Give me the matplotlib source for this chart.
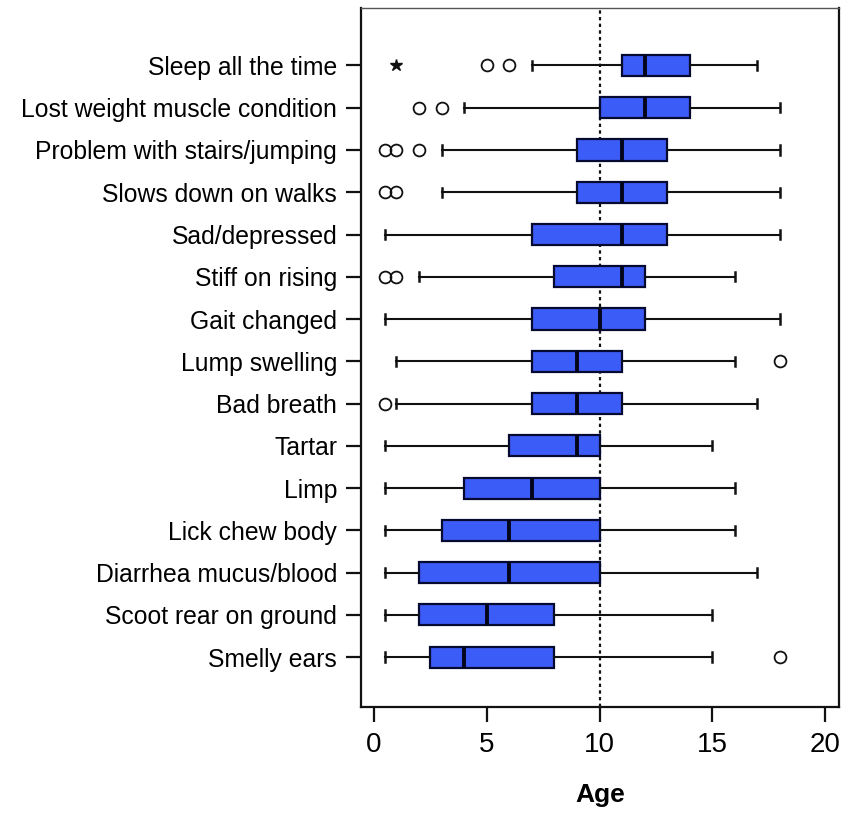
import numpy as np
import matplotlib.pyplot as plt

# symptom labels, top to bottom
symptoms = ['Sleep all the time', 'Lost weight muscle condition',
            'Problem with stairs/jumping', 'Slows down on walks',
            'Sad/depressed', 'Stiff on rising', 'Gait changed',
            'Lump swelling', 'Bad breath', 'Tartar', 'Limp',
            'Lick chew body', 'Diarrhea mucus/blood',
            'Scoot rear on ground', 'Smelly ears']

# box plot summaries (age, years)
whisk_lo = [7, 4, 3, 3, 0.5, 2, 0.5, 1, 1, 0.5, 0.5, 0.5, 0.5, 0.5, 0.5]
q1 = [11, 10, 9, 9, 7, 8, 7, 7, 7, 6, 4, 3, 2, 2, 2.5]
med = [12, 12, 11, 11, 11, 11, 10, 9, 9, 9, 7, 6, 6, 5, 4]
q3 = [14, 14, 13, 13, 13, 12, 12, 11, 11, 10, 10, 10, 10, 8, 8]
whisk_hi = [17, 18, 18, 18, 18, 16, 18, 16, 17, 15, 16, 16, 17, 15, 15]

# outliers (circles) and extremes (stars)
outliers = [[5, 6], [2, 3], [0.5, 1, 2], [0.5, 1], [], [0.5, 1], [], [18],
            [0.5], [], [], [], [], [], [18]]
extremes = [[1], [], [], [], [], [], [], [], [], [], [], [], [], [], []]

plt.rcParams['font.family'] = ['Liberation Sans', 'DejaVu Sans']

fig = plt.figure(figsize=(8.51, 8.18), dpi=100)
ax = fig.add_axes([0.424, 0.1357, 0.562, 0.854])

n = len(symptoms)
pos = np.arange(n, 0, -1)

stats = []
for i in range(n):
    stats.append(dict(whislo=whisk_lo[i], q1=q1[i], med=med[i], q3=q3[i],
                      whishi=whisk_hi[i], fliers=outliers[i]))

ax.bxp(stats, positions=pos, vert=False, widths=0.5, capwidths=0.22,
       patch_artist=True, showfliers=True,
       boxprops=dict(facecolor='#3b5cf7', edgecolor='#060a30', linewidth=1.6),
       medianprops=dict(color='#03051a', linewidth=2.8),
       whiskerprops=dict(color='#111111', linewidth=1.5),
       capprops=dict(color='#111111', linewidth=1.8),
       flierprops=dict(marker='o', markerfacecolor='none',
                       markeredgecolor='#111111', markersize=8.5,
                       markeredgewidth=1.3))

for i in range(n):
    if extremes[i]:
        ax.plot(extremes[i], [pos[i]] * len(extremes[i]), marker='*',
                color='#111111', markersize=9, linestyle='none')

ax.axvline(10, color='#111111', linestyle=(0, (1.5, 1.5)), linewidth=1.6,
           zorder=0.5)

ax.set_xlim(-0.58, 20.62)
ax.set_ylim(-0.18, 16.35)
ax.set_yticks(pos)
ax.set_yticklabels(symptoms, fontsize=17.8)
ax.set_xticks([0, 5, 10, 15, 20])
ax.set_xticklabels(['0', '5', '10', '15', '20'], fontsize=20)
ax.tick_params(axis='both', length=11, width=1.6, color='#111111')
ax.tick_params(axis='x', pad=7)
ax.tick_params(axis='y', pad=6)
ax.set_xlabel('Age', fontsize=19, fontweight='bold', labelpad=18)

for side in ['left', 'bottom', 'right']:
    ax.spines[side].set_linewidth(1.6)
    ax.spines[side].set_color('#111111')
ax.spines['top'].set_linewidth(1.0)
ax.spines['top'].set_color('#555555')

fig.savefig('out.png', dpi=100)
